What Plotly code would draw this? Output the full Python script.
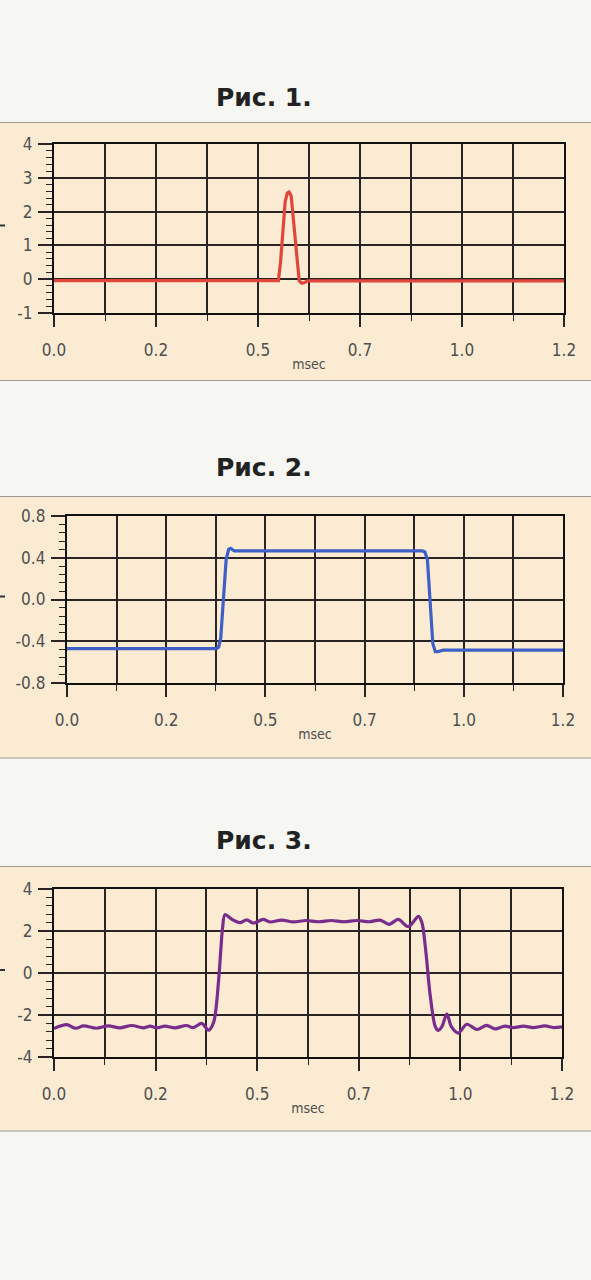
import plotly.graph_objects as go

W, H = 591, 1280

# ---------------- data ----------------
titles = ["Рис. 1.", "Рис. 2.", "Рис. 3."]
x_tick_vals = [0.0, 0.24, 0.48, 0.72, 0.96, 1.2]
x_tick_text = ["0.0", "0.2", "0.5", "0.7", "1.0", "1.2"]
x_axis_title = "msec"

y1_tick_vals = [-1, 0, 1, 2, 3, 4]
y1_tick_text = ["-1", "0", "1", "2", "3", "4"]
y2_tick_vals = [-0.8, -0.4, 0.0, 0.4, 0.8]
y2_tick_text = ["-0.8", "-0.4", "0.0", "0.4", "0.8"]
y3_tick_vals = [-4, -2, 0, 2, 4]
y3_tick_text = ["-4", "-2", "0", "2", "4"]

fig1_x = [0.0, 0.528, 0.533, 0.544, 0.549, 0.553, 0.558, 0.566, 0.577, 0.583, 0.590, 0.596, 1.2]
fig1_y = [-0.04, -0.04, 0.5, 2.3, 2.55, 2.58, 2.47, 1.3, -0.05, -0.12, -0.10, -0.05, -0.05]

fig2_x = [0.0, 0.362, 0.367, 0.372, 0.385, 0.391, 0.396, 0.405, 0.860, 0.866, 0.872, 0.885, 0.891, 0.897, 0.910, 1.2]
fig2_y = [-0.47, -0.47, -0.455, -0.37, 0.38, 0.48, 0.49, 0.465, 0.465, 0.455, 0.38, -0.42, -0.50, -0.50, -0.485, -0.485]

fig3_x = [0.000, 0.030, 0.051, 0.070, 0.100, 0.128, 0.156, 0.184, 0.211, 0.227,
          0.243, 0.262, 0.286, 0.313, 0.329, 0.349, 0.365, 0.377, 0.389, 0.398,
          0.404, 0.420, 0.440, 0.455, 0.471, 0.494, 0.510, 0.538, 0.565, 0.595,
          0.625, 0.655, 0.685, 0.715, 0.745, 0.770, 0.792, 0.813, 0.837, 0.861,
          0.869, 0.877, 0.889, 0.901, 0.908, 0.916, 0.928, 0.939, 0.955, 0.975,
          0.999, 1.022, 1.042, 1.065, 1.085, 1.109, 1.132, 1.160, 1.180, 1.200]
fig3_y = [-2.64, -2.46, -2.63, -2.52, -2.63, -2.52, -2.61, -2.50, -2.61, -2.53,
          -2.61, -2.53, -2.61, -2.50, -2.60, -2.40, -2.72, -2.35, -0.30, 2.10,
          2.78, 2.56, 2.40, 2.53, 2.38, 2.55, 2.43, 2.52, 2.43, 2.50,
          2.44, 2.50, 2.44, 2.50, 2.44, 2.52, 2.32, 2.55, 2.21, 2.70,
          2.40, 1.28, -1.12, -2.57, -2.73, -2.57, -1.96, -2.57, -2.86, -2.44,
          -2.69, -2.49, -2.66, -2.53, -2.60, -2.53, -2.60, -2.52, -2.60, -2.56]

y_ranges = [[-1, 4], [-0.8, 0.8], [-4, 4]]
y_ticks = [(y1_tick_vals, y1_tick_text), (y2_tick_vals, y2_tick_text), (y3_tick_vals, y3_tick_text)]
y_minor = [0.2, 0.08, 0.4]

# ---------------- layout geometry (pixels) ----------------
panels = [
    dict(x=fig1_x, y=fig1_y, color="#E0463A", shape="linear",
         left=54, right=564, top=144, bottom=313, band=(122.5, 380.5), title_y=97),
    dict(x=fig2_x, y=fig2_y, color="#3D5FC6", shape="linear",
         left=67, right=563, top=516, bottom=683, band=(496.5, 758), title_y=467),
    dict(x=fig3_x, y=fig3_y, color="#7A2C8C", shape="spline",
         left=54, right=562, top=889, bottom=1057, band=(866.5, 1131), title_y=840),
]

PAGE = "#F6F6F3"
BEIGE = "#FBEBD2"
GRID = "#2A2424"
LABEL = "#4F4F4F"
TICKFONT = dict(family="DejaVu Sans Condensed, Liberation Sans Narrow, Roboto Condensed, DejaVu Sans, sans-serif",
                size=17, color=LABEL)


def py(p):
    return 1 - p / H


def px(p):
    return p / W


fig = go.Figure()
shapes = []
annotations = []

for i, p in enumerate(panels):
    n = "" if i == 0 else str(i + 1)
    fig.add_trace(go.Scatter(
        x=p["x"], y=p["y"], mode="lines",
        line=dict(color=p["color"], width=3.2, shape=p["shape"], smoothing=0.9),
        xaxis="x" + n, yaxis="y" + n, showlegend=False, hoverinfo="skip"))

    fig.layout["xaxis" + n] = dict(
        domain=[px(p["left"]), px(p["right"])],
        anchor="y" + n, range=[0, 1.2], automargin=False,
        tickmode="array", tickvals=x_tick_vals, ticktext=x_tick_text,
        ticks="outside", ticklen=12, tickwidth=1.6, tickcolor=GRID,
        ticklabelstandoff=8,
        showgrid=True, gridcolor=GRID, gridwidth=1.7,
        minor=dict(dtick=0.12, tick0=0, ticks="outside", ticklen=6, tickwidth=1.3,
                   tickcolor=GRID, showgrid=True, gridcolor=GRID, gridwidth=1.7),
        showline=True, linecolor="#111111", linewidth=2.4, mirror=True,
        zeroline=False, tickfont=TICKFONT,
        title=dict(text=x_axis_title, standoff=1,
                   font=dict(family=TICKFONT["family"], size=14, color=LABEL)),
        fixedrange=True,
    )
    tv, tt = y_ticks[i]
    fig.layout["yaxis" + n] = dict(
        domain=[py(p["bottom"]), py(p["top"])],
        anchor="x" + n, range=y_ranges[i], automargin=False,
        tickmode="array", tickvals=tv, ticktext=tt,
        ticks="outside", ticklen=14, tickwidth=1.6, tickcolor=GRID,
        ticklabelstandoff=2,
        showgrid=True, gridcolor=GRID, gridwidth=1.7,
        minor=dict(dtick=y_minor[i], tick0=0, ticks="outside", ticklen=6, tickwidth=1.3,
                   tickcolor=GRID, showgrid=False),
        showline=True, linecolor="#111111", linewidth=2.4, mirror=True,
        zeroline=False, tickfont=TICKFONT, fixedrange=True,
    )

    b0, b1 = p["band"]
    shapes.append(dict(type="rect", xref="paper", yref="paper", x0=0, x1=1,
                       y0=py(b1), y1=py(b0), fillcolor=BEIGE, line=dict(width=0),
                       layer="below"))
    for yy in (b0, b1):
        shapes.append(dict(type="line", xref="paper", yref="paper", x0=0, x1=1,
                           y0=py(yy), y1=py(yy), line=dict(color="#9C9A92", width=1.2),
                           layer="below"))
    # small cut-off mark at the left edge (remnant of the y-axis title)
    mid = (p["top"] + p["bottom"]) / 2 - 3
    shapes.append(dict(type="line", xref="paper", yref="paper", x0=0, x1=px(5),
                       y0=py(mid), y1=py(mid), line=dict(color="#333333", width=2)))

    annotations.append(dict(text="<b>" + titles[i] + "</b>", xref="paper", yref="paper",
                            x=px(264), y=py(p["title_y"]), showarrow=False,
                            xanchor="center", yanchor="middle",
                            font=dict(family="DejaVu Sans, sans-serif", size=25,
                                      color="#222222")))

fig.update_layout(
    width=W, height=H,
    margin=dict(l=0, r=0, t=0, b=0, pad=0, autoexpand=False),
    paper_bgcolor=PAGE, plot_bgcolor=BEIGE,
    shapes=shapes, annotations=annotations,
    showlegend=False,
)

fig.write_html("out.html",
               config={"displayModeBar": False},
               post_script="document.body.style.margin='0';document.body.style.background='#F6F6F3';")
